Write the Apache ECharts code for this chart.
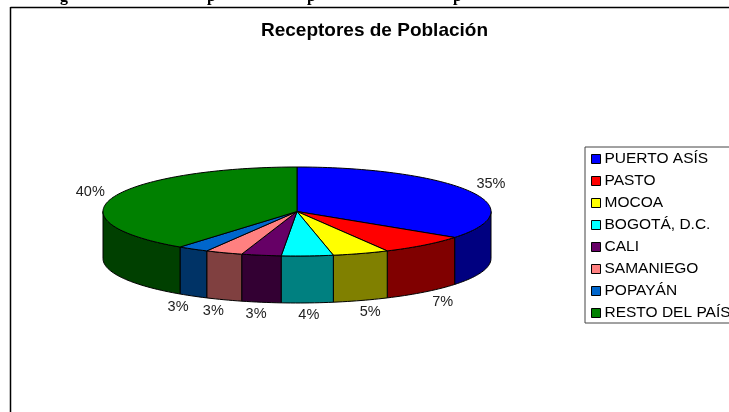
<!DOCTYPE html>
<html><head><meta charset="utf-8">
<style>html,body{margin:0;padding:0;background:#fff}#c{width:729px;height:412px}</style>
<script src="https://cdn.jsdelivr.net/npm/echarts@6/dist/echarts.min.js"></script>
</head><body><div id="c"></div>
<script>
const categories = ['PUERTO ASÍS','PASTO','MOCOA','BOGOTÁ, D.C.','CALI','SAMANIEGO','POPAYÁN','RESTO DEL PAÍS'];
const values = [34.9,7.4,4.7,4.3,3.3,3.1,2.6,39.7];
const topColors = ['#0000ff','#ff0000','#ffff00','#00ffff','#660066','#ff8080','#0066cc','#008000'];
const sideColors = ['#000080','#800000','#808000','#008080','#330033','#804040','#003366','#004000'];
const headerGlyphs = [['g',60],['p',207],['p',307],['p',453]];

const cx=297, cy=211.5, rx=194, ry=44.5, depth=47;
const total = values.reduce((a,b)=>a+b,0);
const pt=(deg,dy=0,ex=0,ey=0)=>{const t=deg*Math.PI/180;return [cx+(rx+ex)*Math.sin(t),cy-(ry+ey)*Math.cos(t)+dy];};
const arc=(a,b,dy=0)=>{const n=Math.max(2,Math.ceil((b-a)/1.5)),o=[];for(let i=0;i<=n;i++)o.push(pt(a+(b-a)*i/n,dy));return o;};
let run=0;
const spans=values.map(v=>{const s=[run/total*360,(run+v)/total*360];run+=v;return s;});

const series=categories.map((name,i)=>({
  type:'custom',name,coordinateSystem:'none',silent:true,
  itemStyle:{color:topColors[i]},
  data:[values[i]],
  renderItem(){
    const [a,b]=spans[i],children=[];
    const fa=Math.max(a,90),fb=Math.min(b,270);
    if(fb>fa){
      const upper=arc(fa,fb),lower=arc(fa,fb,depth).reverse();
      children.push({type:'polygon',shape:{points:upper.concat(lower)},style:{fill:sideColors[i],stroke:'#000',lineWidth:1}});
    }
    children.push({type:'polygon',shape:{points:[[cx,cy]].concat(arc(a,b))},style:{fill:topColors[i],stroke:'#000',lineWidth:1}});
    const m=(a+b)/2,front=m>90&&m<270;
    const p=front?pt(m,depth+2,28,10):pt(m,0,24,16);
    children.push({type:'text',style:{x:p[0],y:p[1],text:Math.round(values[i]/total*100)+'%',align:'center',verticalAlign:'middle',
      font:'14.5px "Liberation Sans"',fill:'#222'}});
    return {type:'group',children};
  }
}));

const chart=echarts.init(document.getElementById('c'),null,{renderer:'canvas'});
chart.setOption({
  animation:false,backgroundColor:'#fff',
  title:{text:'Receptores de Población',left:261,top:21,padding:0,
    textStyle:{fontFamily:'Liberation Sans',fontWeight:'bold',fontSize:19,color:'#000'}},
  legend:{orient:'vertical',left:585,top:147,padding:[4,40,2,6],selectedMode:false,
    borderColor:'#444',borderWidth:1,backgroundColor:'#fff',
    icon:'rect',itemWidth:9,itemHeight:9,itemGap:6,
    itemStyle:{borderColor:'#000',borderWidth:1},
    textStyle:{fontFamily:'Liberation Sans',fontSize:15.5,color:'#000',lineHeight:16,padding:[0,0,0,-1]},
    data:categories},
  series,
  graphic:[
    {type:'line',shape:{x1:10.5,y1:7.5,x2:729,y2:7.5},style:{stroke:'#000',lineWidth:1.5}},
    {type:'line',shape:{x1:10.5,y1:7,x2:10.5,y2:412},style:{stroke:'#000',lineWidth:1.5}},
    ...headerGlyphs.map(([t,x])=>({type:'text',x,y:-11,style:{text:t,font:'bold 16px "Liberation Serif"',fill:'#000'}}))
  ]
});
</script></body></html>
